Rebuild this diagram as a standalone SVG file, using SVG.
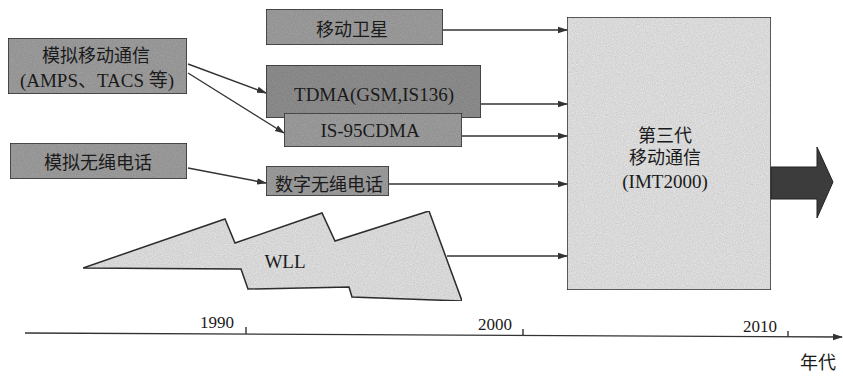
<svg xmlns="http://www.w3.org/2000/svg" width="843" height="376" viewBox="0 0 843 376">
<defs>
<marker id="ah" markerWidth="10" markerHeight="8" refX="9" refY="4" orient="auto" markerUnits="userSpaceOnUse">
<path d="M0,0.8 L10,4 L0,7.2 Z" fill="#333"/>
</marker>
<filter id="grain" x="0" y="0" width="100%" height="100%">
<feTurbulence type="fractalNoise" baseFrequency="0.9" numOctaves="2" seed="3" result="n"/>
<feColorMatrix in="n" type="matrix" values="0 0 0 0 0  0 0 0 0 0  0 0 0 0 0  0 0 0 0.35 -0.05" result="na"/>
<feComposite in="na" in2="SourceGraphic" operator="in" result="nc"/>
<feMerge><feMergeNode in="SourceGraphic"/><feMergeNode in="nc"/></feMerge>
</filter>
</defs>
<style>
.box{fill:#a0a0a0;stroke:#333;stroke-width:1.5}
.dark{fill:#919191;stroke:#333;stroke-width:1.5}
.light{fill:#e6e6e6;stroke:#333;stroke-width:1.5}
.cn{font-family:"Liberation Serif","Noto Sans CJK SC",serif;font-size:18px;fill:#1a1a1a;text-anchor:middle}
.en{font-family:"Liberation Serif","Noto Sans CJK SC",serif;font-size:19px;fill:#1a1a1a;text-anchor:middle}
.yr{font-family:"Liberation Serif",serif;font-size:17px;fill:#1a1a1a;text-anchor:middle}
.ln{stroke:#333;stroke-width:1.4;fill:none}
</style>
<rect width="843" height="376" fill="#fff"/>

<g id="big3g">
<rect class="light" x="567" y="17" width="204" height="273" filter="url(#grain)"/>
<text class="cn" x="665" y="142">第三代</text>
<text class="cn" x="665" y="164">移动通信</text>
<text class="en" x="665" y="188">(IMT2000)</text>
</g>

<g id="bigarrow">
<path d="M771,167 L817,167 L817,147 L833,182 L817,218 L817,199 L771,199 Z" fill="#3c3c3c" stroke="#222" stroke-width="1"/>
</g>

<g id="satellite">
<rect class="box" x="266" y="9" width="177" height="36" filter="url(#grain)"/>
<text class="cn" x="352" y="36">移动卫星</text>
</g>

<g id="analog">
<rect class="box" x="8" y="38" width="179" height="56" filter="url(#grain)"/>
<text class="cn" x="96" y="62">模拟移动通信</text>
<text class="en" x="97" y="87" font-size="17">(AMPS、TACS 等)</text>
</g>

<g id="tdma">
<rect class="dark" x="266" y="65" width="215" height="53" filter="url(#grain)"/>
<text class="en" x="374" y="101" font-size="20">TDMA(GSM,IS136)</text>
</g>

<g id="cdma">
<rect class="box" x="284" y="113" width="178" height="34" filter="url(#grain)"/>
<text class="en" x="370" y="137">IS-95CDMA</text>
</g>

<g id="analogcordless">
<rect class="box" x="10" y="143" width="177" height="36" filter="url(#grain)"/>
<text class="cn" x="98" y="169">模拟无绳电话</text>
</g>

<g id="digitalcordless">
<rect class="box" x="266" y="166" width="123" height="30" filter="url(#grain)"/>
<text class="cn" x="329" y="191">数字无绳电话</text>
</g>

<g id="wll">
<path d="M83,268 L225,219 L235,243 L322,213 L335,241 L429,211 L462,301 L352,297 L349,287 L248,289 L241,269 Z" fill="#e4e4e4" stroke="#333" stroke-width="1.5" filter="url(#grain)"/>
<text class="en" x="285" y="268">WLL</text>
</g>

<g id="connectors">
<line class="ln" x1="443" y1="30" x2="567" y2="30" marker-end="url(#ah)"/>
<line class="ln" x1="481" y1="104" x2="567" y2="104" marker-end="url(#ah)"/>
<line class="ln" x1="462" y1="136" x2="567" y2="136" marker-end="url(#ah)"/>
<line class="ln" x1="389" y1="184" x2="567" y2="184" marker-end="url(#ah)"/>
<line class="ln" x1="447" y1="256" x2="567" y2="256" marker-end="url(#ah)"/>
<line class="ln" x1="188" y1="64" x2="266" y2="93" marker-end="url(#ah)"/>
<line class="ln" x1="188" y1="73" x2="284" y2="133" marker-end="url(#ah)"/>
<line class="ln" x1="188" y1="168" x2="266" y2="183" marker-end="url(#ah)"/>
</g>

<g id="timeline">
<line class="ln" x1="25" y1="333" x2="842" y2="337" marker-end="url(#ah)"/>
<line class="ln" x1="246" y1="327" x2="246" y2="334"/>
<line class="ln" x1="523" y1="329" x2="523" y2="335"/>
<line class="ln" x1="788" y1="331" x2="788" y2="337"/>
<text class="yr" x="217" y="328">1990</text>
<text class="yr" x="495" y="330">2000</text>
<text class="yr" x="760" y="332">2010</text>
<text class="cn" x="818" y="369">年代</text>
</g>
</svg>
